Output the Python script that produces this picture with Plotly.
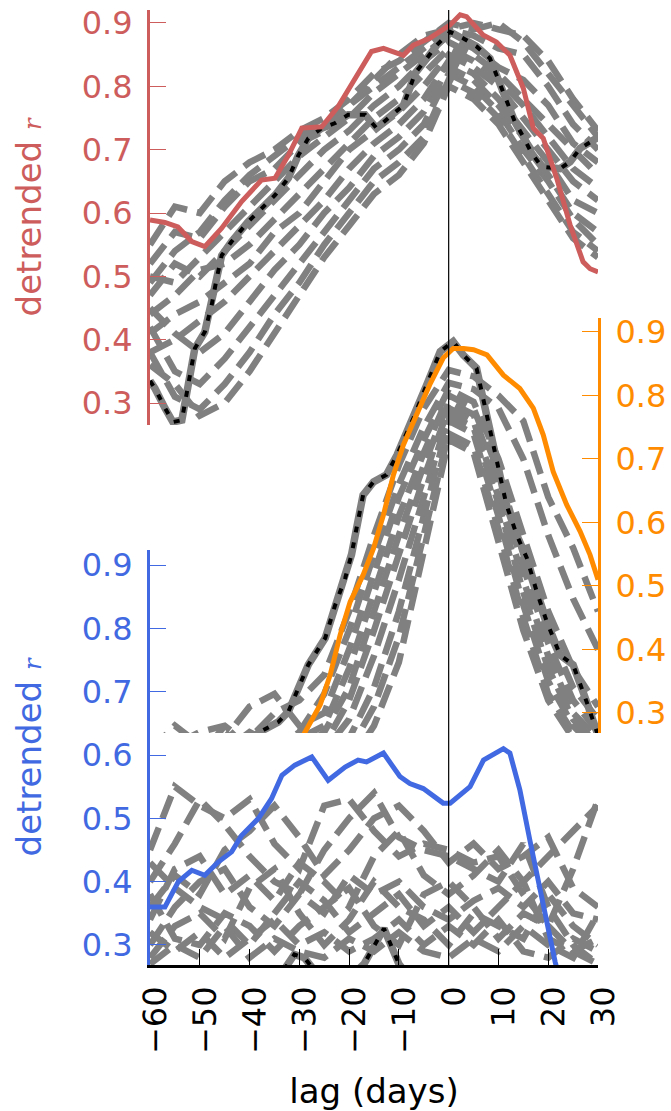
import plotly.graph_objects as go

RED = "#CD5C5C"
ORANGE = "#FF8C00"
BLUE = "#4169E1"
GRAY = "#808080"

LAGS = [-60, -55, -50, -45, -40, -35, -30, -25, -20, -15, -10, -5, 0, 5, 10, 15, 20, 25, 30]
X_TICKS = [-60, -50, -40, -30, -20, -10, 0, 10, 20, 30]
X_TICKTEXT = ["−60", "−50", "−40", "−30", "−20", "−10", "0", "10", "20", "30"]
Y_TICKS = [0.3, 0.4, 0.5, 0.6, 0.7, 0.8, 0.9]

# ---------------- top panel (red) ----------------
RED_LAG = [-60, -57, -54.4, -51.6, -49, -45.6, -41.6, -37.6, -34.9, -32.2, -29.5, -25.5, -22.2,
           -18.8, -15.5, -13.1, -9.1, -7.1, -3.8, 0.3, 2.3, 3.6, 6.9, 9.6, 12.3, 15, 17, 19,
           21.7, 24.4, 27, 28.4, 30]
RED_R = [0.589, 0.585, 0.578, 0.555, 0.547, 0.576, 0.618, 0.652, 0.655, 0.691, 0.734, 0.736, 0.768,
         0.813, 0.855, 0.86, 0.849, 0.865, 0.876, 0.897, 0.913, 0.91, 0.881, 0.87, 0.849, 0.797,
         0.734, 0.718, 0.655, 0.581, 0.523, 0.512, 0.507]

TOPDOT_LAG = [-60, -59, -57, -55.4, -53.6, -52.3, -51, -49, -47.6, -46.6, -45.6, -43.6, -40.3, -37.6,
              -34.9, -32.2, -30.2, -28.2, -25.5, -22.8, -20.2, -16.8, -14.5, -11.8, -9.1, -7.8, -6.8,
              -4.4, -2.4, 0.3, 2.9, 5.6, 8.3, 9.6, 11, 12, 13.3, 15, 16.7, 18.7, 22.4, 24.4, 26.4,
              29.7, 30]
TOPDOT_R = [0.335, 0.323, 0.292, 0.27, 0.273, 0.333, 0.386, 0.412, 0.455, 0.497, 0.533, 0.555, 0.586,
            0.607, 0.628, 0.655, 0.691, 0.718, 0.734, 0.742, 0.755, 0.755, 0.734, 0.752, 0.77, 0.797,
            0.82, 0.844, 0.865, 0.886, 0.876, 0.863, 0.844, 0.818, 0.791, 0.768, 0.744, 0.72, 0.694,
            0.673, 0.67, 0.681, 0.702, 0.718, 0.72]

TOP_GRAY = [
    [0.55, 0.61, 0.60, 0.65, 0.68, 0.70, 0.73, 0.75, 0.78, 0.82, 0.84, 0.87, 0.90, 0.89, 0.90, 0.87, 0.82, 0.77, 0.72],
    [0.52, 0.57, 0.56, 0.61, 0.65, 0.67, 0.71, 0.73, 0.77, 0.80, 0.83, 0.86, 0.89, 0.88, 0.86, 0.85, 0.80, 0.74, 0.70],
    [0.50, 0.49, 0.53, 0.57, 0.61, 0.65, 0.69, 0.72, 0.75, 0.79, 0.82, 0.85, 0.88, 0.86, 0.83, 0.81, 0.77, 0.71, 0.68],
    [0.47, 0.52, 0.50, 0.54, 0.58, 0.62, 0.66, 0.70, 0.73, 0.77, 0.80, 0.84, 0.87, 0.85, 0.82, 0.78, 0.74, 0.70, 0.66],
    [0.44, 0.47, 0.51, 0.52, 0.55, 0.59, 0.63, 0.67, 0.71, 0.75, 0.78, 0.82, 0.86, 0.84, 0.81, 0.77, 0.72, 0.67, 0.64],
    [0.41, 0.44, 0.46, 0.49, 0.52, 0.57, 0.60, 0.65, 0.70, 0.73, 0.76, 0.80, 0.85, 0.83, 0.80, 0.75, 0.70, 0.65, 0.62],
    [0.38, 0.40, 0.43, 0.46, 0.50, 0.54, 0.58, 0.62, 0.67, 0.71, 0.74, 0.78, 0.84, 0.82, 0.78, 0.73, 0.68, 0.62, 0.60],
    [0.45, 0.41, 0.38, 0.41, 0.46, 0.51, 0.55, 0.60, 0.64, 0.69, 0.72, 0.76, 0.83, 0.81, 0.77, 0.72, 0.66, 0.60, 0.57],
    [0.42, 0.35, 0.33, 0.37, 0.42, 0.47, 0.52, 0.57, 0.62, 0.67, 0.70, 0.74, 0.82, 0.80, 0.76, 0.70, 0.65, 0.59, 0.55],
    [0.38, 0.31, 0.29, 0.33, 0.38, 0.44, 0.49, 0.55, 0.60, 0.65, 0.68, 0.72, 0.81, 0.79, 0.75, 0.69, 0.63, 0.57, 0.54],
    [0.36, 0.33, 0.28, 0.30, 0.35, 0.41, 0.47, 0.53, 0.58, 0.63, 0.66, 0.71, 0.80, 0.78, 0.74, 0.68, 0.62, 0.56, 0.53],
    [0.49, 0.54, 0.57, 0.62, 0.66, 0.69, 0.72, 0.74, 0.77, 0.81, 0.85, 0.88, 0.89, 0.90, 0.89, 0.88, 0.84, 0.78, 0.73],
]

# ---------------- middle panel (orange) ----------------
OR_LAG = [-32, -29.2, -25.8, -23.8, -21.8, -19.8, -17.2, -15.1, -13.1, -11.1, -9.1, -6.4, -3.8, -1.1,
          0.9, 3, 5, 7.7, 11, 14.3, 17, 19, 21, 23.7, 26.4, 28.4, 30]
OR_R = [0.22, 0.265, 0.313, 0.36, 0.423, 0.475, 0.517, 0.559, 0.612, 0.675, 0.722, 0.769, 0.817, 0.859,
        0.874, 0.874, 0.872, 0.864, 0.832, 0.811, 0.78, 0.738, 0.68, 0.628, 0.586, 0.549, 0.51]

MIDDOT_LAG = [-42, -38.2, -34.2, -32.2, -30.2, -28.2, -24.8, -22.8, -20.8, -19.5, -18.5, -17.2, -15.1,
              -12.5, -10.4, -7.1, -4.4, -1.7, 0.9, 2.9, 5.6, 6.9, 8.9, 10.3, 11.6, 13.7, 15.7, 17.7,
              19.7, 22.4, 25, 27.7, 29.4, 30]
MIDDOT_R = [0.24, 0.269, 0.286, 0.302, 0.339, 0.376, 0.418, 0.47, 0.512, 0.55, 0.591, 0.643, 0.664,
            0.675, 0.706, 0.764, 0.817, 0.869, 0.885, 0.864, 0.843, 0.795, 0.727, 0.675, 0.628, 0.58,
            0.544, 0.491, 0.444, 0.391, 0.376, 0.318, 0.276, 0.265]

MID_GRAY = [
    [0.24, 0.28, 0.25, 0.23, 0.26, 0.30, 0.32, 0.36, 0.46, 0.58, 0.69, 0.78, 0.84, 0.83, 0.80, 0.76, 0.64, 0.56, 0.46],
    [0.22, 0.25, 0.27, 0.28, 0.25, 0.24, 0.27, 0.33, 0.43, 0.55, 0.66, 0.75, 0.82, 0.81, 0.78, 0.70, 0.58, 0.48, 0.40],
    [0.20, 0.22, 0.24, 0.26, 0.31, 0.33, 0.28, 0.30, 0.40, 0.52, 0.64, 0.73, 0.81, 0.79, 0.70, 0.58, 0.46, 0.37, 0.31],
    [0.21, 0.23, 0.22, 0.24, 0.27, 0.25, 0.26, 0.28, 0.37, 0.49, 0.61, 0.71, 0.80, 0.78, 0.68, 0.55, 0.43, 0.34, 0.29],
    [0.20, 0.21, 0.23, 0.28, 0.24, 0.22, 0.24, 0.27, 0.34, 0.46, 0.58, 0.69, 0.79, 0.77, 0.66, 0.53, 0.41, 0.32, 0.27],
    [0.19, 0.20, 0.22, 0.24, 0.23, 0.22, 0.23, 0.25, 0.32, 0.43, 0.55, 0.67, 0.78, 0.76, 0.64, 0.51, 0.39, 0.30, 0.26],
    [0.18, 0.19, 0.21, 0.22, 0.21, 0.20, 0.22, 0.24, 0.29, 0.39, 0.51, 0.64, 0.77, 0.75, 0.63, 0.49, 0.37, 0.29, 0.25],
    [0.18, 0.19, 0.20, 0.21, 0.20, 0.21, 0.21, 0.22, 0.26, 0.34, 0.46, 0.61, 0.76, 0.74, 0.61, 0.47, 0.35, 0.28, 0.24],
    [0.17, 0.18, 0.19, 0.20, 0.19, 0.20, 0.20, 0.21, 0.24, 0.31, 0.42, 0.58, 0.74, 0.72, 0.59, 0.45, 0.33, 0.27, 0.23],
    [0.16, 0.17, 0.18, 0.19, 0.18, 0.19, 0.19, 0.20, 0.22, 0.28, 0.38, 0.55, 0.73, 0.71, 0.57, 0.43, 0.32, 0.26, 0.22],
]

# ---------------- bottom panel (blue) ----------------
BL_LAG = [-60, -57, -54.3, -51.6, -49, -46.3, -43.6, -41.6, -38.2, -35.6, -33.5, -30.9, -27.5, -24.2,
          -20.8, -18.2, -16.5, -13.1, -9.8, -7.8, -5.1, -1.1, 0.3, 4.3, 7, 11, 12.3, 14.3, 16.3, 18.3,
          20.4, 21.4, 22.5]
BL_R = [0.36, 0.36, 0.40, 0.418, 0.41, 0.431, 0.447, 0.473, 0.50, 0.531, 0.568, 0.584, 0.597, 0.56,
        0.581, 0.592, 0.589, 0.603, 0.566, 0.555, 0.547, 0.524, 0.524, 0.55, 0.592, 0.61, 0.603, 0.545,
        0.466, 0.387, 0.308, 0.273, 0.24]

BOTDOT_LAG = [-60, -40, -34, -31, -29, -26, -21, -17, -13, -10, -6, 0, 30]
BOTDOT_R = [0.20, 0.22, 0.25, 0.285, 0.28, 0.25, 0.24, 0.27, 0.326, 0.27, 0.23, 0.20, 0.20]

BOT_GRAY = [
    [0.45, 0.55, 0.52, 0.50, 0.53, 0.46, 0.42, 0.52, 0.53, 0.48, 0.44, 0.46, 0.45, 0.43, 0.44, 0.38, 0.33, 0.42, 0.53],
    [0.40, 0.46, 0.53, 0.49, 0.44, 0.40, 0.38, 0.45, 0.50, 0.54, 0.47, 0.45, 0.44, 0.42, 0.40, 0.46, 0.36, 0.30, 0.27],
    [0.34, 0.42, 0.44, 0.38, 0.41, 0.37, 0.43, 0.40, 0.36, 0.44, 0.48, 0.41, 0.38, 0.41, 0.45, 0.40, 0.44, 0.48, 0.52],
    [0.30, 0.36, 0.40, 0.42, 0.36, 0.33, 0.38, 0.35, 0.41, 0.38, 0.40, 0.36, 0.34, 0.37, 0.39, 0.36, 0.40, 0.35, 0.34],
    [0.28, 0.33, 0.35, 0.31, 0.39, 0.42, 0.35, 0.30, 0.34, 0.40, 0.36, 0.34, 0.30, 0.35, 0.33, 0.31, 0.38, 0.33, 0.30],
    [0.43, 0.39, 0.36, 0.34, 0.30, 0.35, 0.40, 0.37, 0.32, 0.35, 0.38, 0.33, 0.36, 0.32, 0.36, 0.40, 0.31, 0.29, 0.27],
    [0.38, 0.31, 0.30, 0.35, 0.33, 0.29, 0.33, 0.36, 0.39, 0.33, 0.30, 0.38, 0.40, 0.36, 0.31, 0.35, 0.33, 0.29, 0.31],
    [0.32, 0.29, 0.32, 0.28, 0.31, 0.34, 0.30, 0.32, 0.29, 0.31, 0.34, 0.30, 0.33, 0.30, 0.34, 0.29, 0.28, 0.31, 0.29],
    [0.27, 0.30, 0.28, 0.33, 0.28, 0.31, 0.29, 0.28, 0.31, 0.29, 0.32, 0.29, 0.28, 0.31, 0.29, 0.33, 0.30, 0.28, 0.35],
    [0.36, 0.41, 0.38, 0.45, 0.48, 0.52, 0.47, 0.41, 0.45, 0.50, 0.52, 0.48, 0.43, 0.46, 0.42, 0.44, 0.47, 0.39, 0.36],
]

GRAY_DASH = "24px,10px"
DOT_DASH = "6px,10px"

fig = go.Figure()


def add_panel(yaxis, gray_sets, dot_lag, dot_r, main_lag, main_r, main_color):
    for g in gray_sets:
        fig.add_trace(go.Scatter(x=LAGS, y=g, mode="lines", yaxis=yaxis, xaxis="x",
                                 line=dict(color=GRAY, width=6.5, dash=GRAY_DASH),
                                 showlegend=False, hoverinfo="skip"))
    fig.add_trace(go.Scatter(x=dot_lag, y=dot_r, mode="lines", yaxis=yaxis, xaxis="x",
                             line=dict(color=GRAY, width=7.5), showlegend=False, hoverinfo="skip"))
    fig.add_trace(go.Scatter(x=dot_lag, y=dot_r, mode="lines", yaxis=yaxis, xaxis="x",
                             line=dict(color="black", width=4, dash=DOT_DASH),
                             showlegend=False, hoverinfo="skip"))
    fig.add_trace(go.Scatter(x=main_lag, y=main_r, mode="lines", yaxis=yaxis, xaxis="x",
                             line=dict(color=main_color, width=5),
                             showlegend=False, hoverinfo="skip"))


add_panel("y", TOP_GRAY, TOPDOT_LAG, TOPDOT_R, RED_LAG, RED_R, RED)
add_panel("y2", MID_GRAY, MIDDOT_LAG, MIDDOT_R, OR_LAG, OR_R, ORANGE)
add_panel("y3", BOT_GRAY, BOTDOT_LAG, BOTDOT_R, BL_LAG, BL_R, BLUE)

FONT = "DejaVu Sans"
R_HTML = 'detrended <span style="font-size:24px;font-family:DejaVu Serif"><i>r</i></span>'


def yax(color, domain, rng, side, title):
    d = dict(domain=domain, range=rng, anchor="x", side=side, automargin=False,
             tickvals=Y_TICKS, tickformat=".1f", ticks="inside", ticklen=16, tickwidth=1,
             tickcolor=color, showline=True, linecolor=color, linewidth=3,
             showgrid=False, zeroline=False, ticklabelstandoff=8,
             tickfont=dict(family=FONT, size=32, color=color))
    if title:
        d["title"] = dict(text=title, font=dict(family=FONT, size=34, color=color), standoff=30)
    return d


fig.update_layout(
    width=671, height=1111,
    margin=dict(l=150, r=73, t=10, b=146, autoexpand=False),
    paper_bgcolor="white", plot_bgcolor="rgba(0,0,0,0)",
    font=dict(family=FONT),
    xaxis=dict(range=[-60, 30], domain=[0, 1], anchor="y3", automargin=False,
               tickvals=X_TICKS, ticktext=X_TICKTEXT,
               ticks="inside", ticklen=16, tickwidth=1, tickcolor="black", showline=True,
               linecolor="black", linewidth=3, showgrid=False, zeroline=False, tickangle=-89.9,
               ticklabelstandoff=-4,
               tickfont=dict(family=FONT, size=32, color="black"),
               title=dict(text="lag (days)", font=dict(family=FONT, size=34, color="black"), standoff=30)),
    yaxis=yax(RED, [0.56545, 1.0], [0.2653, 0.9205], "left", R_HTML),
    yaxis2=yax(ORANGE, [0.24293, 0.67749], [0.2685, 0.922], "right", None),
    yaxis3=yax(BLUE, [0.0, 0.43455], [0.2684, 0.9237], "left", R_HTML),
    shapes=[dict(type="line", xref="x", yref="paper", x0=0, x1=0, y0=0, y1=1,
                 line=dict(color="black", width=1.2), layer="above")],
)

fig.write_html("out.html")
